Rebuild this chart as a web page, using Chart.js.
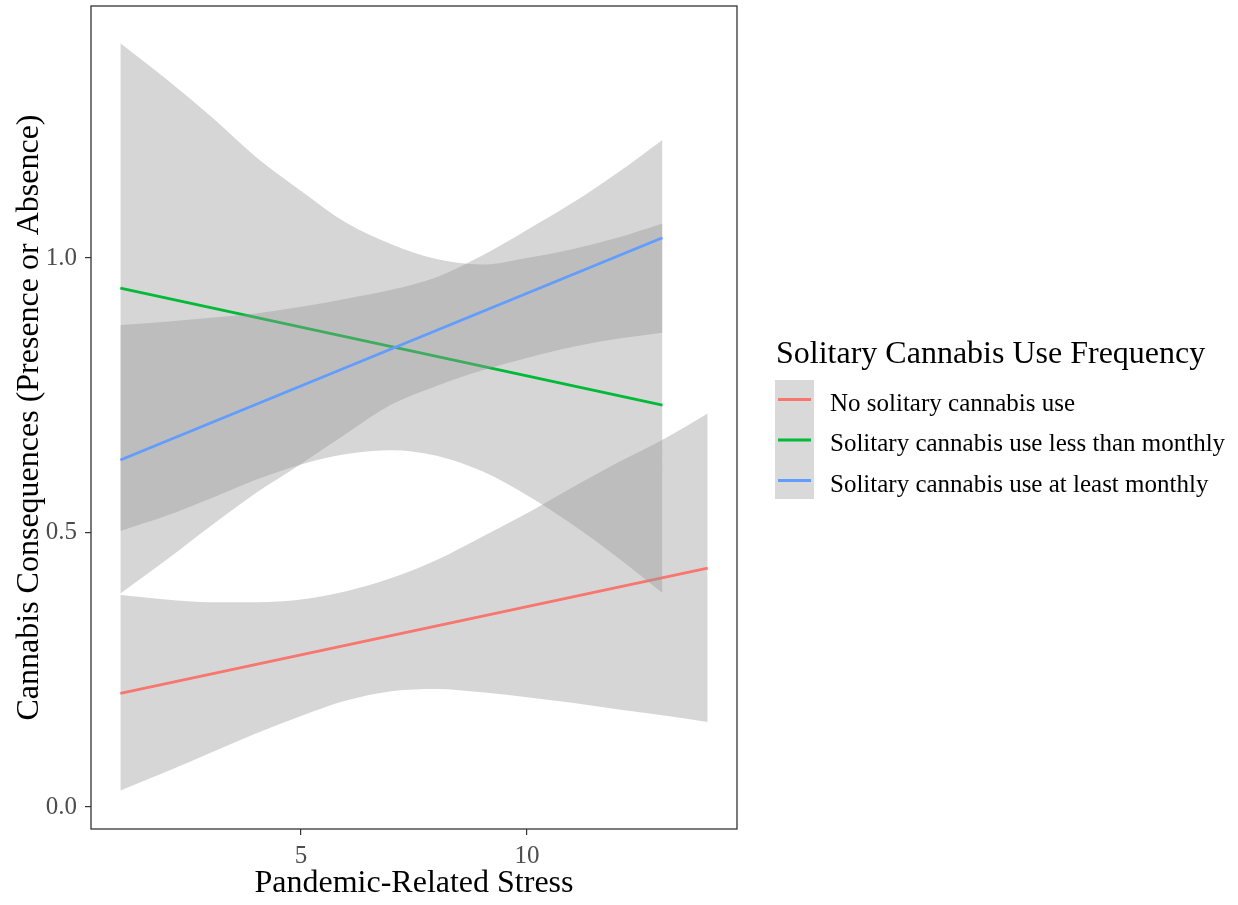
<!DOCTYPE html>
<html>
<head>
<meta charset="utf-8">
<title>Cannabis Consequences by Pandemic-Related Stress</title>
<script src="https://cdn.jsdelivr.net/npm/chart.js@4"></script>
<style>
  html, body { margin: 0; padding: 0; background: #fff; }
  #wrap { width: 1238px; height: 905px; position: relative; }
</style>
</head>
<body>
<div id="wrap"><canvas id="stressChart"></canvas></div>
<script>
// Values
const groups = [
    'No solitary cannabis use',
    'Solitary cannabis use less than monthly',
    'Solitary cannabis use at least monthly'
];
const xTicks = [5, 10];
const yTicks = [0, 0.5, 1];

// fitted lines (straight), start and end
const redLineX = [1, 14];
const redLine = [0.207, 0.435];
const greenLineX = [1, 13];
const greenLine = [0.945, 0.732];
const blueLineX = [1, 13];
const blueLine = [0.632, 1.037];

// confidence bands
const redBandX = [1, 2, 3, 4, 5, 6, 7, 8, 9, 10, 11, 12, 13, 14];
const redUpper = [0.386, 0.378, 0.373, 0.373, 0.378, 0.393, 0.417, 0.450, 0.492, 0.535, 0.582, 0.627, 0.669, 0.717];
const redLower = [0.030, 0.064, 0.099, 0.134, 0.166, 0.194, 0.211, 0.215, 0.209, 0.200, 0.190, 0.178, 0.167, 0.155];

const bandX = [1, 2, 3, 4, 5, 6, 7, 8, 9, 10, 11, 12, 13];
const greenUpper = [1.391, 1.327, 1.258, 1.184, 1.122, 1.064, 1.025, 0.998, 0.988, 1.000, 1.016, 1.037, 1.063];
const greenLower = [0.503, 0.530, 0.562, 0.596, 0.624, 0.643, 0.650, 0.640, 0.612, 0.568, 0.515, 0.455, 0.390];
const blueUpper = [0.878, 0.884, 0.891, 0.899, 0.911, 0.926, 0.942, 0.965, 1.004, 1.051, 1.100, 1.155, 1.215];
const blueLower = [0.389, 0.449, 0.512, 0.572, 0.625, 0.680, 0.733, 0.767, 0.795, 0.818, 0.838, 0.853, 0.864];

const colors = ['#F8766D', '#00BA38', '#619CFF'];
const bandFill = 'rgba(153,153,153,0.4)';
const serif = '"Liberation Serif", "Times New Roman", serif';

function pts(xs, ys) {
    return xs.map((x, i) => ({ x: x, y: ys[i] }));
}

function band(xs, up, lo, order) {
    return [
        { data: pts(xs, up), fill: '+1', backgroundColor: bandFill, borderWidth: 0,
          pointRadius: 0, cubicInterpolationMode: 'monotone', order: order },
        { data: pts(xs, lo), fill: false, borderWidth: 0, pointRadius: 0,
          cubicInterpolationMode: 'monotone', order: order }
    ];
}

function fitLine(xs, ys, color, order) {
    return { data: pts(xs, ys), borderColor: color, borderWidth: 2.8, pointRadius: 0, fill: false, order: order };
}

// no extra room for half tick labels, the panel edges are fixed
function noPad(s) {
    s.paddingTop = 0;
    s.paddingBottom = 0;
    s.paddingLeft = 0;
    s.paddingRight = 0;
}

// legend and panel border drawn by hand, ggplot style
const ggExtras = {
    id: 'ggExtras',
    afterDraw(chart) {
        const ctx = chart.ctx;
        const a = chart.chartArea;
        ctx.save();
        ctx.strokeStyle = '#333333';
        ctx.lineWidth = 1.3;
        ctx.strokeRect(a.left, a.top, a.right - a.left, a.bottom - a.top);

        ctx.fillStyle = '#000';
        ctx.font = '32px ' + serif;
        ctx.textBaseline = 'alphabetic';
        ctx.fillText('Solitary Cannabis Use Frequency', 776, 363);

        ctx.fillStyle = '#d9d9d9';
        ctx.fillRect(775, 380, 39, 119);

        ctx.font = '25px ' + serif;
        groups.forEach((g, i) => {
            const y = 399.5 + 40.5 * i;
            ctx.strokeStyle = colors[i];
            ctx.lineWidth = 2.8;
            ctx.beginPath();
            ctx.moveTo(778, y);
            ctx.lineTo(811, y);
            ctx.stroke();
            ctx.fillStyle = '#000';
            ctx.fillText(g, 830, 411 + 40.3 * i);
        });
        ctx.restore();
    }
};

const config = {
    type: 'line',
    data: {
        datasets: [
            fitLine(blueLineX, blueLine, colors[2], 0),
            ...band(bandX, blueUpper, blueLower, 1),
            fitLine(greenLineX, greenLine, colors[1], 2),
            ...band(bandX, greenUpper, greenLower, 3),
            fitLine(redLineX, redLine, colors[0], 4),
            ...band(redBandX, redUpper, redLower, 5)
        ]
    },
    options: {
        responsive: true,
        maintainAspectRatio: false,
        animation: false,
        events: [],
        layout: { padding: { left: 0, right: 501, top: 6, bottom: 0 } },
        plugins: {
            legend: { display: false },
            tooltip: { enabled: false }
        },
        scales: {
            x: {
                type: 'linear',
                min: 0.35,
                max: 14.65,
                afterBuildTicks: s => { s.ticks = xTicks.map(v => ({ value: v })); },
                afterFit: s => { s.height = 76; noPad(s); },
                grid: { drawOnChartArea: false, drawTicks: true, tickLength: 6, color: '#333333', lineWidth: 1.2 },
                border: { display: false },
                ticks: { color: '#4d4d4d', padding: 6, font: { family: serif, size: 25 } },
                title: {
                    display: true,
                    text: 'Pandemic-Related Stress',
                    color: '#000',
                    font: { family: serif, size: 32 },
                    padding: { top: 0, bottom: 2 }
                }
            },
            y: {
                type: 'linear',
                min: -0.040,
                max: 1.459,
                afterBuildTicks: s => { s.ticks = yTicks.map(v => ({ value: v })); },
                afterFit: s => { s.width = 91; noPad(s); },
                grid: { drawOnChartArea: false, drawTicks: true, tickLength: 6, color: '#333333', lineWidth: 1.2 },
                border: { display: false },
                ticks: {
                    color: '#4d4d4d', padding: 8, font: { family: serif, size: 25 },
                    callback: v => v.toFixed(1)
                },
                title: {
                    display: true,
                    text: 'Cannabis Consequences (Presence or Absence)',
                    color: '#000',
                    font: { family: serif, size: 32 },
                    padding: { top: 10, bottom: 0 }
                }
            }
        }
    },
    plugins: [ggExtras]
};

window.onload = function() {
    const ctx = document.getElementById('stressChart').getContext('2d');
    new Chart(ctx, config);
};
</script>
</body>
</html>
